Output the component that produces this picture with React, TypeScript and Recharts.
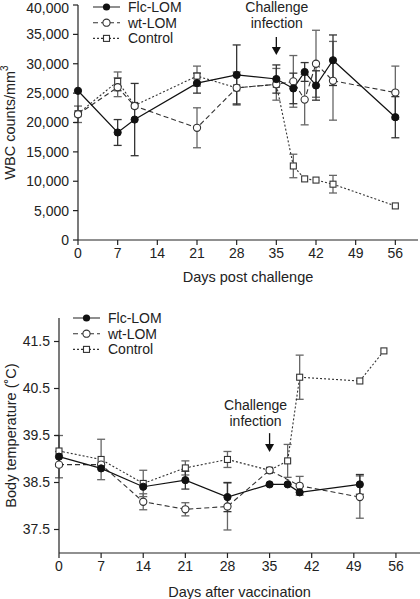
import { ComposedChart, Line, XAxis, YAxis, ErrorBar, Legend, ReferenceLine } from 'recharts'

const FONT = '"Liberation Sans", Arial, Helvetica, sans-serif'
const INK = '#222'
const BAR_GREY = '#666'

// shared x ticks (days)
const dayTicks = [0, 7, 14, 21, 28, 35, 42, 49, 56]

// WBC panel (days post challenge)
const wbcDays = [0, 7, 10, 21, 28, 35, 38, 40, 42, 45, 56]
const wbcFlc = [25400, 18300, 20500, 26700, 28100, 27400, 25800, 28600, 26300, 30600, 20900]
const wbcFlcErr = [null, 2200, 6150, 1700, 5100, 2400, 2600, 1600, 2500, 4300, 3500]
const wbcWt = [21400, 26000, 22800, 19100, 25900, 26500, 27000, 23900, 30000, 27100, 25100]
const wbcWtErr = [1400, 1600, null, 3400, 2700, 2700, 4400, 4300, 5700, 6700, 4500]
const wbcCtrl = [21500, 27000, 22900, 27900, 25900, 26500, 12600, 10400, 10200, 9500, 5800]
const wbcCtrlErr = [null, 1600, null, 1700, null, null, 2000, null, null, 1500, null]
const wbcTicks = [0, 5000, 10000, 15000, 20000, 25000, 30000, 35000, 40000]

// body temperature panel (days after vaccination)
const tempDays = [0, 7, 14, 21, 28, 35, 38, 40, 50, 54]
const tempFlc = [39.05, 38.8, 38.41, 38.55, 38.19, 38.46, 38.46, 38.29, 38.46, null]
const tempFlcErr = [null, null, null, 0.19, 0.31, null, null, null, 0.21, null]
const tempWt = [38.88, 38.88, 38.09, 37.93, 37.99, 38.76, null, 38.43, 38.19, null]
const tempWtErr = [0.28, null, 0.17, 0.14, 0.5, null, null, 0.2, 0.45, null]
const tempCtrl = [39.17, 38.99, 38.48, 38.81, 38.99, 38.76, 38.96, 40.74, 40.66, 41.3]
const tempCtrlErr = [0.33, 0.43, 0.28, 0.15, 0.17, null, 0.35, 0.47, null, null]
const tempTicks = [37.5, 38.5, 39.5, 40.5, 41.5]

const wbcRows = wbcDays.map((day, i) => ({
  day,
  flc: wbcFlc[i], flcErr: wbcFlcErr[i],
  wt: wbcWt[i], wtErr: wbcWtErr[i],
  ctrl: wbcCtrl[i], ctrlErr: wbcCtrlErr[i],
}))

const tempRows = tempDays.map((day, i) => ({
  day,
  flc: tempFlc[i], flcErr: tempFlcErr[i],
  wt: tempWt[i], wtErr: tempWtErr[i],
  ctrl: tempCtrl[i], ctrlErr: tempCtrlErr[i],
}))

const tickStyle = { fontSize: 14, fill: INK, fontFamily: FONT }

function SquareDot(props: any) {
  const { cx, cy } = props
  if (cx == null || cy == null || isNaN(cy)) return null
  return <rect x={cx - 3} y={cy - 3} width={6} height={6} fill="#fff" stroke="#333" strokeWidth={1.1} />
}

// little legend with line + marker samples
function LegendBox() {
  const rows = [
    { name: 'Flc-LOM', dash: undefined, kind: 'filled' },
    { name: 'wt-LOM', dash: '5 3', kind: 'open' },
    { name: 'Control', dash: '2 2', kind: 'square' },
  ]
  return (
    <svg width={110} height={48} style={{ display: 'block', overflow: 'visible' }}>
      {rows.map((r, i) => {
        const y = 7 + i * 15.7
        return (
          <g key={r.name}>
            <line x1={3} x2={30} y1={y} y2={y} stroke="#333" strokeWidth={1.1} strokeDasharray={r.dash} />
            {r.kind === 'filled' && <circle cx={16.5} cy={y} r={3.6} fill="#111" />}
            {r.kind === 'open' && <circle cx={16.5} cy={y} r={3.6} fill="#fff" stroke="#333" strokeWidth={1.1} />}
            {r.kind === 'square' && <rect x={13.5} y={y - 3} width={6} height={6} fill="#fff" stroke="#333" strokeWidth={1.1} />}
            <text x={38} y={y} dominantBaseline="central" fontSize={14} fill={INK} fontFamily={FONT}>{r.name}</text>
          </g>
        )
      })}
    </svg>
  )
}

// arrow + "Challenge infection" note, drawn by a ReferenceLine segment
function challengeShape(textDx: number, gap: number) {
  return (props: any) => {
    const { x1, y1, x2, y2 } = props
    return (
      <g>
        <line x1={x1} y1={y1} x2={x2} y2={y2 - 7} stroke="#111" strokeWidth={1.3} />
        <polygon points={`${x2 - 4.5},${y2 - 8} ${x2 + 4.5},${y2 - 8} ${x2},${y2}`} fill="#111" />
        <text x={x1 + textDx} y={y1 - gap - 15.7} textAnchor="middle" dominantBaseline="central" fontSize={14} fill={INK} fontFamily={FONT}>Challenge</text>
        <text x={x1 + textDx} y={y1 - gap} textAnchor="middle" dominantBaseline="central" fontSize={14} fill={INK} fontFamily={FONT}>infection</text>
      </g>
    )
  }
}

function xTitle(text: string, dy: number) {
  return ({ viewBox }: any) => (
    <text x={viewBox.x + viewBox.width / 2} y={viewBox.y + dy} textAnchor="middle" dominantBaseline="central" fontSize={14.5} fill={INK} fontFamily={FONT}>
      {text}
    </text>
  )
}

function yTitle(children: React.ReactNode, dx: number) {
  return ({ viewBox }: any) => {
    const cx = viewBox.x + dx
    const cy = viewBox.y + viewBox.height / 2
    return (
      <text x={cx} y={cy} transform={`rotate(-90 ${cx} ${cy})`} textAnchor="middle" dominantBaseline="central" fontSize={14.5} fill={INK} fontFamily={FONT}>
        {children}
      </text>
    )
  }
}

export default function App() {
  const axisLine = { stroke: '#222', strokeWidth: 1.2 }
  const tickLine = { stroke: '#222', strokeWidth: 1.2 }
  return (
    <div style={{ position: 'absolute', left: 0, top: 0, width: 420, height: 599, background: '#fff', fontFamily: FONT }}>
      <ComposedChart width={420} height={290} data={wbcRows} margin={{ top: 5, right: 2, bottom: 0, left: 0 }}>
        <XAxis
          dataKey="day"
          type="number"
          domain={[0, 60]}
          ticks={dayTicks}
          height={50}
          tick={tickStyle}
          axisLine={axisLine}
          tickLine={tickLine}
          tickSize={5}
          tickMargin={3}
          label={{ content: xTitle('Days post challenge', 36.5) }}
        />
        <YAxis
          type="number"
          domain={[0, 40000]}
          ticks={wbcTicks}
          width={78}
          tick={tickStyle}
          axisLine={axisLine}
          tickLine={tickLine}
          tickSize={5}
          tickMargin={4}
          tickFormatter={(v: number) => v.toLocaleString('en-US')}
          label={{
            content: yTitle(
              <>
                <tspan>WBC counts/mm</tspan>
                <tspan dy={-6} fontSize={10}>3</tspan>
              </>,
              10,
            ),
          }}
        />
        <Line dataKey="ctrl" stroke="#333" strokeWidth={1.1} strokeDasharray="2 2" dot={<SquareDot />} connectNulls isAnimationActive={false}>
          <ErrorBar dataKey="ctrlErr" width={4} stroke={BAR_GREY} strokeWidth={1.3} />
        </Line>
        <Line dataKey="wt" stroke="#333" strokeWidth={1.1} strokeDasharray="5 3" dot={{ r: 3.6, fill: '#fff', stroke: '#333', strokeWidth: 1.1, strokeDasharray: '' }} connectNulls isAnimationActive={false}>
          <ErrorBar dataKey="wtErr" width={4} stroke={BAR_GREY} strokeWidth={1.3} />
        </Line>
        <Line dataKey="flc" stroke="#111" strokeWidth={1.2} dot={{ r: 3.6, fill: '#111', stroke: '#111', strokeWidth: 1 }} connectNulls isAnimationActive={false}>
          <ErrorBar dataKey="flcErr" width={4} stroke="#333" strokeWidth={1.3} />
        </Line>
        <ReferenceLine segment={[{ x: 35, y: 34550 }, { x: 35, y: 31500 }]} shape={challengeShape(0.5, 14)} ifOverflow="visible" />
        <Legend
          layout="vertical"
          align="center"
          verticalAlign="middle"
          content={() => <LegendBox />}
          wrapperStyle={{ left: 90, top: 0, width: 110, height: 48 }}
        />
      </ComposedChart>

      <ComposedChart width={420} height={309} data={tempRows} margin={{ top: 28, right: 0, bottom: 0, left: 0 }}>
        <XAxis
          dataKey="day"
          type="number"
          domain={[0, 60]}
          ticks={dayTicks}
          height={46}
          tick={tickStyle}
          axisLine={axisLine}
          tickLine={tickLine}
          tickSize={5}
          tickMargin={3}
          label={{ content: xTitle('Days after vaccination', 38.5) }}
        />
        <YAxis
          type="number"
          domain={[37, 42]}
          ticks={tempTicks}
          width={59}
          tick={tickStyle}
          axisLine={axisLine}
          tickLine={tickLine}
          tickSize={5}
          tickMargin={4}
          label={{ content: yTitle('Body temperature (˚C)', 11) }}
        />
        <Line dataKey="ctrl" stroke="#333" strokeWidth={1.1} strokeDasharray="2 2" dot={<SquareDot />} connectNulls isAnimationActive={false}>
          <ErrorBar dataKey="ctrlErr" width={4} stroke={BAR_GREY} strokeWidth={1.3} />
        </Line>
        <Line dataKey="wt" stroke="#333" strokeWidth={1.1} strokeDasharray="5 3" dot={{ r: 3.6, fill: '#fff', stroke: '#333', strokeWidth: 1.1, strokeDasharray: '' }} connectNulls isAnimationActive={false}>
          <ErrorBar dataKey="wtErr" width={4} stroke={BAR_GREY} strokeWidth={1.3} />
        </Line>
        <Line dataKey="flc" stroke="#111" strokeWidth={1.2} dot={{ r: 3.6, fill: '#111', stroke: '#111', strokeWidth: 1 }} connectNulls isAnimationActive={false}>
          <ErrorBar dataKey="flcErr" width={4} stroke="#333" strokeWidth={1.3} />
        </Line>
        <ReferenceLine segment={[{ x: 35, y: 39.55 }, { x: 35, y: 39.15 }]} shape={challengeShape(-14, 12)} ifOverflow="visible" />
        <Legend
          layout="vertical"
          align="center"
          verticalAlign="middle"
          content={() => <LegendBox />}
          wrapperStyle={{ left: 70, top: 21, width: 110, height: 48 }}
        />
      </ComposedChart>
    </div>
  )
}
